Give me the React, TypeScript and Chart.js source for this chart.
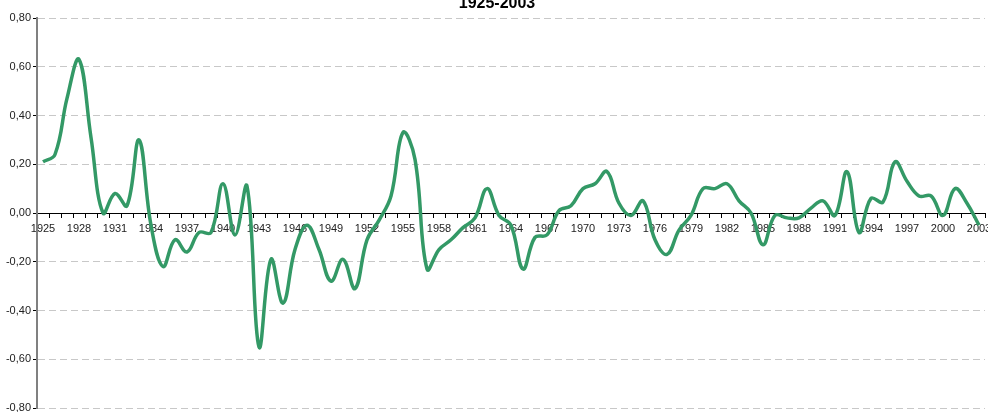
import { useEffect, useRef } from 'react';
import { Chart, registerables } from 'chart.js';

Chart.register(...registerables);

const TITLE = '1925-2003';

const years = [
  '1925', '1926', '1927', '1928', '1929', '1930', '1931', '1932', '1933', '1934',
  '1935', '1936', '1937', '1938', '1939', '1940', '1941', '1942', '1943', '1944',
  '1945', '1946', '1947', '1948', '1949', '1950', '1951', '1952', '1953', '1954',
  '1955', '1956', '1957', '1958', '1959', '1960', '1961', '1962', '1963', '1964',
  '1965', '1966', '1967', '1968', '1969', '1970', '1971', '1972', '1973', '1974',
  '1975', '1976', '1977', '1978', '1979', '1980', '1981', '1982', '1983', '1984',
  '1985', '1986', '1987', '1988', '1989', '1990', '1991', '1992', '1993', '1994',
  '1995', '1996', '1997', '1998', '1999', '2000', '2001', '2002', '2003',
];

const values = [
  0.21, 0.24, 0.47, 0.63, 0.31, 0.0, 0.08, 0.03, 0.30, -0.05,
  -0.22, -0.11, -0.16, -0.08, -0.08, 0.12, -0.09, 0.11, -0.55, -0.19,
  -0.37, -0.15, -0.05, -0.15, -0.28, -0.19, -0.31, -0.11, -0.03, 0.07,
  0.33, 0.22, -0.23, -0.15, -0.11, -0.06, -0.02, 0.10, -0.01, -0.05,
  -0.23, -0.10, -0.09, 0.01, 0.03, 0.10, 0.12, 0.17, 0.04, -0.01,
  0.05, -0.11, -0.17, -0.07, -0.01, 0.10, 0.10, 0.12, 0.05, 0.0,
  -0.13, -0.01, -0.02, -0.02, 0.02, 0.05, -0.01, 0.17, -0.08, 0.06,
  0.045, 0.21, 0.13, 0.07, 0.07, -0.01, 0.10, 0.04, -0.05,
];

const Y_MIN = -0.8;
const Y_MAX = 0.8;
const Y_STEP = 0.2;
const X_LABEL_EVERY = 3;

const FONT = 'Arial, "Liberation Sans", sans-serif';

const titlePlugin = {
  id: 'cutTitle',
  afterDraw(chart: any) {
    const ctx = chart.ctx;
    ctx.save();
    ctx.font = `bold 16px ${FONT}`;
    ctx.fillStyle = '#000';
    ctx.textAlign = 'center';
    ctx.textBaseline = 'alphabetic';
    ctx.fillText(TITLE, 497, 8);
    ctx.restore();
  },
};

export default function App() {
  const ref = useRef<HTMLCanvasElement>(null);

  useEffect(() => {
    if (!ref.current) return;
    const chart = new Chart(ref.current, {
      type: 'line',
      data: {
        labels: years,
        datasets: [
          {
            data: values,
            borderColor: '#339966',
            borderWidth: 3.5,
            pointRadius: 0,
            pointHoverRadius: 0,
            tension: 0.4,
            fill: false,
          },
        ],
      },
      plugins: [titlePlugin],
      options: {
        responsive: false,
        animation: false,
        events: [],
        layout: { padding: { top: 18, right: 15, bottom: 12, left: 0 } },
        plugins: {
          legend: { display: false },
          title: { display: false },
          tooltip: { enabled: false },
        },
        scales: {
          x: {
            type: 'category',
            position: { y: 0 } as any,
            offset: true,
            grid: {
              offset: true,
              drawOnChartArea: false,
              drawTicks: true,
              tickLength: 4,
              tickColor: '#000',
              tickWidth: 1,
            },
            border: { display: true, color: '#000', width: 1 },
            ticks: {
              autoSkip: false,
              maxRotation: 0,
              minRotation: 0,
              padding: 5,
              color: '#222',
              font: { family: FONT, size: 11 },
              callback: (_v: any, i: number) => (i % X_LABEL_EVERY === 0 ? years[i] : ''),
            },
          },
          y: {
            type: 'linear',
            min: Y_MIN,
            max: Y_MAX,
            afterFit: (s: any) => {
              s.width = 37;
            },
            grid: {
              color: '#c8c8c8',
              lineWidth: 1,
              drawTicks: true,
              tickLength: 4,
              tickColor: '#000',
              tickWidth: 1,
              tickBorderDash: [],
            } as any,
            border: { display: true, color: '#808080', width: 2, dash: [7, 4] },
            ticks: {
              stepSize: Y_STEP,
              padding: 2,
              color: '#222',
              font: { family: FONT, size: 11 },
              callback: (v: any) => {
                const n = Number(v);
                const s = Math.abs(n) < 1e-9 ? '0.00' : n.toFixed(2);
                return s.replace('.', ',');
              },
            },
          },
        },
      },
    });
    return () => chart.destroy();
  }, []);

  return (
    <div style={{ position: 'fixed', left: 0, top: 0, width: 1000, height: 420, background: '#fff' }}>
      <canvas ref={ref} width={1000} height={420} style={{ display: 'block' }} />
    </div>
  );
}
